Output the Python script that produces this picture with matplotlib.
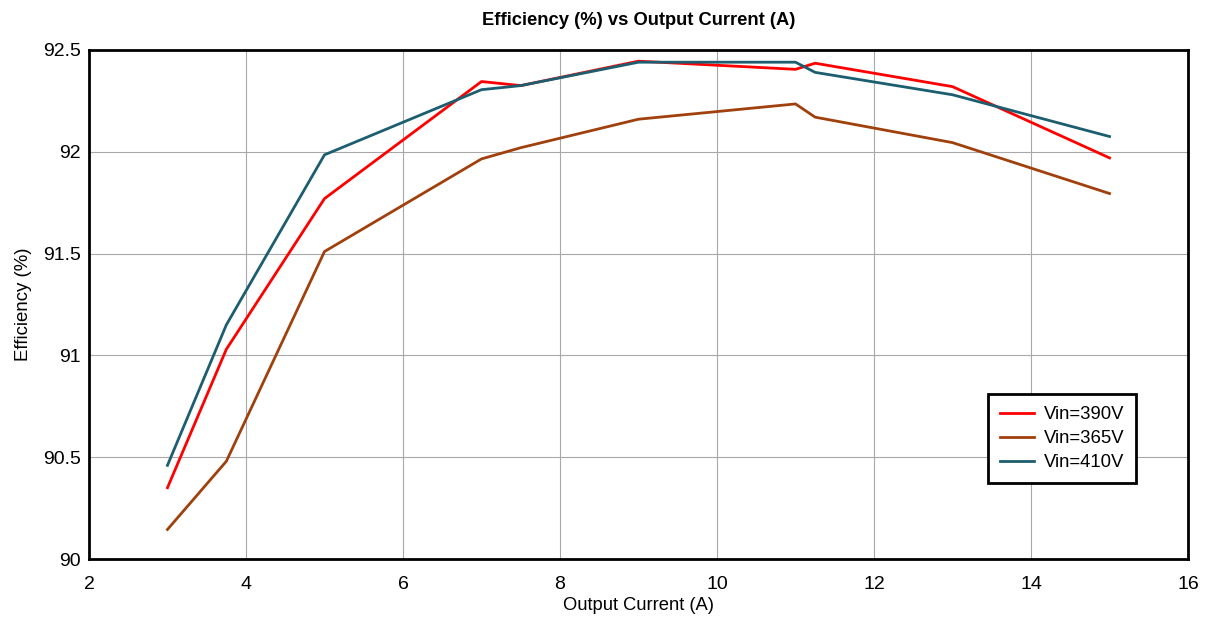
import matplotlib
matplotlib.use('Agg')
import matplotlib.pyplot as plt

plt.rcParams['font.family'] = ['Liberation Sans', 'DejaVu Sans']

current = [3, 3.75, 5, 7, 7.5, 9, 11, 11.25, 13, 15]
eff_390 = [90.35, 91.03, 91.77, 92.345, 92.325, 92.445, 92.405, 92.435, 92.32, 91.97]
eff_365 = [90.145, 90.48, 91.51, 91.965, 92.02, 92.16, 92.235, 92.17, 92.045, 91.795]
eff_410 = [90.46, 91.15, 91.985, 92.305, 92.325, 92.44, 92.44, 92.39, 92.28, 92.075]

x_ticks = [2, 4, 6, 8, 10, 12, 14, 16]
y_ticks = [90, 90.5, 91, 91.5, 92, 92.5]
y_labels = ['90', '90.5', '91', '91.5', '92', '92.5']

fig = plt.figure(figsize=(12.07, 6.17), dpi=100)
ax = fig.add_axes([0.0737, 0.094, 0.9106, 0.825])

ax.plot(current, eff_390, color='#ff0000', lw=2, label='Vin=390V')
ax.plot(current, eff_365, color='#a0400c', lw=2, label='Vin=365V')
ax.plot(current, eff_410, color='#1c5e70', lw=2, label='Vin=410V')

ax.set_xlim(2, 16)
ax.set_ylim(90, 92.5)
ax.set_xticks(x_ticks)
ax.set_yticks(y_ticks)
ax.set_yticklabels(y_labels)
ax.tick_params(length=0, labelsize=14)
ax.tick_params(axis='x', pad=12)
ax.tick_params(axis='y', pad=6)
ax.grid(True, color='#a8a8a8', lw=0.8)
ax.set_axisbelow(True)
for s in ax.spines.values():
    s.set_linewidth(2)

ax.set_xlabel('Output Current (A)', fontsize=13.2, labelpad=3)
ax.set_ylabel('Efficiency (%)', fontsize=13.4, labelpad=8)
ax.set_title('Efficiency (%) vs Output Current (A)', fontsize=13.2, fontweight='bold', pad=18)

leg = ax.legend(loc='lower right', bbox_to_anchor=(0.9527, 0.149), fontsize=13.3,
                fancybox=False, framealpha=1, edgecolor='black',
                handlelength=1.85, handletextpad=0.5, labelspacing=0.38,
                borderpad=0.65, borderaxespad=0)
leg.get_frame().set_linewidth(2)

fig.savefig('out.png', dpi=100)
